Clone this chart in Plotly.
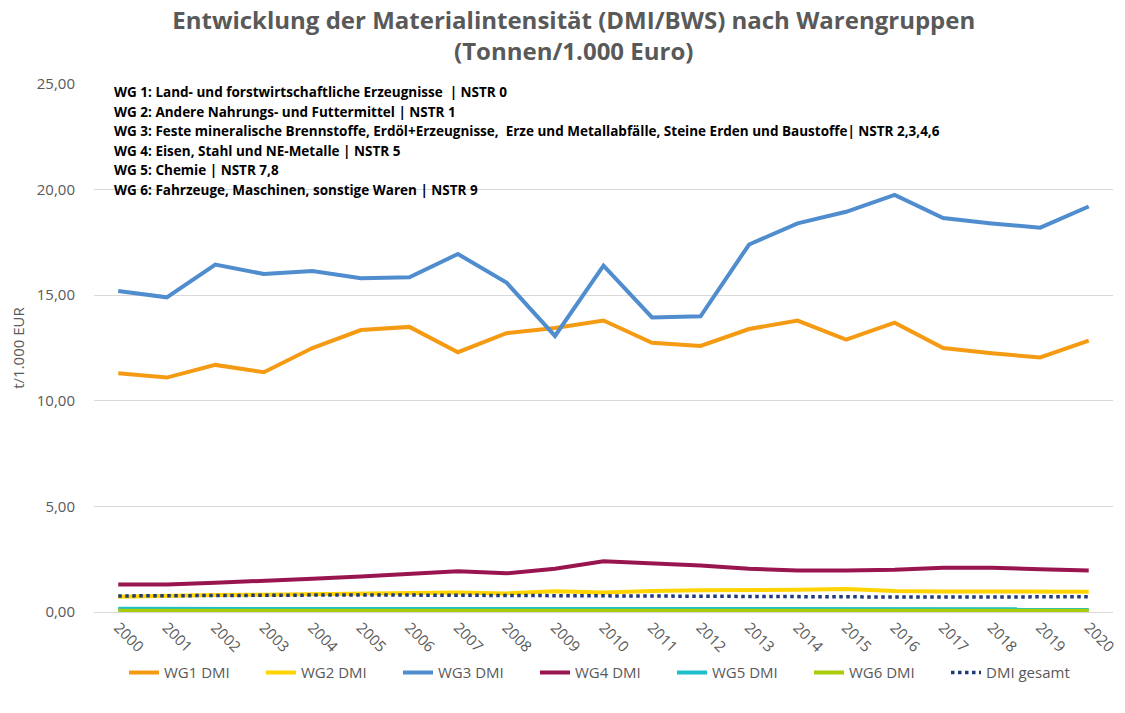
import plotly.graph_objects as go

years = list(range(2000, 2021))
wg1 = [11.3, 11.1, 11.7, 11.35, 12.5, 13.35, 13.5, 12.3, 13.2, 13.45, 13.8, 12.75, 12.6, 13.4, 13.8, 12.9, 13.7, 12.5, 12.25, 12.05, 12.85]
wg2 = [0.72, 0.78, 0.8, 0.82, 0.85, 0.87, 0.9, 0.92, 0.88, 0.98, 0.92, 1.0, 1.03, 1.03, 1.05, 1.09, 1.0, 0.97, 0.98, 0.97, 0.96]
wg3 = [15.2, 14.9, 16.45, 16.0, 16.15, 15.8, 15.85, 16.95, 15.6, 13.07, 16.4, 13.95, 14.0, 17.4, 18.4, 18.95, 19.75, 18.65, 18.4, 18.2, 19.2]
wg4 = [1.3, 1.3, 1.38, 1.5, 1.58, 1.68, 1.8, 1.93, 1.83, 2.05, 2.4, 2.32, 2.2, 2.05, 1.97, 1.97, 2.0, 2.1, 2.1, 2.03, 1.97]
wg5 = [0.15, 0.15, 0.15, 0.15, 0.15, 0.14, 0.14, 0.15, 0.14, 0.13, 0.14, 0.14, 0.15, 0.15, 0.15, 0.14, 0.13, 0.13, 0.13, 0.13, 0.13]
wg6 = [0.06, 0.06, 0.06, 0.06, 0.06, 0.06, 0.06, 0.06, 0.06, 0.05, 0.06, 0.06, 0.06, 0.06, 0.06, 0.06, 0.06, 0.06, 0.06, 0.06, 0.06]
gesamt = [0.76, 0.78, 0.79, 0.8, 0.8, 0.81, 0.8, 0.8, 0.78, 0.74, 0.74, 0.73, 0.73, 0.73, 0.72, 0.72, 0.71, 0.71, 0.71, 0.71, 0.72]

series = [
    ("WG1 DMI", wg1, "#F59B13", "solid"),
    ("WG2 DMI", wg2, "#FFD400", "solid"),
    ("WG3 DMI", wg3, "#4F8DCE", "solid"),
    ("WG4 DMI", wg4, "#99154F", "solid"),
    ("WG5 DMI", wg5, "#1CBFCB", "solid"),
    ("WG6 DMI", wg6, "#A9CC0C", "solid"),
    ("DMI gesamt", gesamt, "#1F3A78", "dot"),
]

notes = [
    "WG 1: Land- und forstwirtschaftliche Erzeugnisse  | NSTR 0",
    "WG 2: Andere Nahrungs- und Futtermittel | NSTR 1",
    "WG 3: Feste mineralische Brennstoffe, Erdöl+Erzeugnisse,  Erze und Metallabfälle, Steine Erden und Baustoffe| NSTR 2,3,4,6",
    "WG 4: Eisen, Stahl und NE-Metalle | NSTR 5",
    "WG 5: Chemie | NSTR 7,8",
    "WG 6: Fahrzeuge, Maschinen, sonstige Waren | NSTR 9",
]

fig = go.Figure()
for name, vals, col, dash in series:
    fig.add_trace(go.Scatter(x=years, y=vals, name=name, mode="lines",
                             line=dict(color=col, width=4 if dash == "solid" else 3.5, dash=dash)))

for i, t in enumerate(notes):
    py = 92 + i * 19.6
    fig.add_annotation(text="<b>" + t + "</b>", xref="paper", yref="paper",
                       x=(112 - 94) / 1025, y=(612 - py) / 528, xanchor="left", yanchor="middle",
                       showarrow=False, font=dict(family="Open Sans", size=13.5, color="#000000"))

fig.update_layout(
    width=1125, height=713,
    margin=dict(l=94, r=6, t=84, b=101),
    paper_bgcolor="white", plot_bgcolor="white",
    separators=",.",
    title=dict(text="<b>Entwicklung der Materialintensität (DMI/BWS) nach Warengruppen<br>(Tonnen/1.000 Euro)</b>",
               x=0.51, xanchor="center", y=0.96, yanchor="top",
               font=dict(family="Open Sans", size=24, color="#595959")),
    font=dict(family="Open Sans", color="#595959"),
    showlegend=True,
    legend=dict(orientation="h", x=0.5, xanchor="center", y=-0.084, yanchor="top",
                bgcolor="rgba(0,0,0,0)",
                font=dict(size=15, color="#595959"), entrywidth=92, entrywidthmode="pixels",
                tracegroupgap=0),
    xaxis=dict(range=[1999.5, 2020.5], tickmode="array", tickvals=years, ticktext=[str(y) for y in years],
               tickangle=45, tickfont=dict(size=15, color="#595959"), showgrid=False, zeroline=False,
               showline=True, linecolor="#D9D9D9", linewidth=1, ticks=""),
    yaxis=dict(range=[0, 25], tickvals=[0, 5, 10, 15, 20, 25], tickformat=".2f",
               tickfont=dict(size=15, color="#595959"), gridcolor="#D9D9D9", gridwidth=1,
               zeroline=False, showline=False, ticks="", ticklabelstandoff=18,
               title=dict(text="t/1.000 EUR", font=dict(size=15, color="#595959"), standoff=8)),
)

fig.write_html("out.html", config={"displayModeBar": False},
               post_script="document.body.style.margin='0';")
